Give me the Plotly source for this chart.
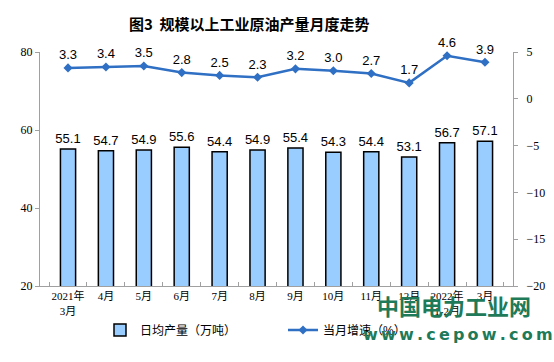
import plotly.graph_objects as go

categories = ["2021年<br>3月", "4月", "5月", "6月", "7月", "8月", "9月", "10月", "11月", "12月", "2022年<br>1-2月", "3月"]
output = [55.1, 54.7, 54.9, 55.6, 54.4, 54.9, 55.4, 54.3, 54.4, 53.1, 56.7, 57.1]
growth = [3.3, 3.4, 3.5, 2.8, 2.5, 2.3, 3.2, 3.0, 2.7, 1.7, 4.6, 3.9]

sans = "Liberation Sans, Noto Sans CJK SC"
serif = "Liberation Serif, Noto Sans CJK SC"

fig = go.Figure()
fig.add_trace(go.Bar(
    x=categories, y=output, name="日均产量（万吨）",
    marker=dict(color="#99CCFF", line=dict(color="#000000", width=1.5)),
    width=0.4,
    text=[f"{v:.1f}" for v in output], textposition="outside",
    constraintext="none",
    textfont=dict(family=sans, size=13, color="#000"),
    cliponaxis=False,
))
fig.add_trace(go.Scatter(
    x=categories, y=growth, name="当月增速（%）", yaxis="y2",
    mode="lines+markers+text",
    line=dict(color="#2F6FC4", width=2.5),
    marker=dict(symbol="diamond", size=7, color="#2F6FC4"),
    text=[f"{v:.1f}" for v in growth], textposition="top center",
    textfont=dict(family=sans, size=13, color="#000"),
    cliponaxis=False,
))

fig.update_layout(
    width=554, height=362,
    margin=dict(l=40, r=41, t=52, b=76, autoexpand=False),
    paper_bgcolor="white", plot_bgcolor="white",
    title=dict(text="<b>图3  规模以上工业原油产量月度走势</b>", x=0.45, xanchor="center",
               y=1 - 25 / 362, yanchor="middle",
               font=dict(family="Noto Sans CJK SC", size=15, color="#000")),
    xaxis=dict(showline=True, linecolor="#A0A0A0", linewidth=1, mirror=False,
               ticks="inside", tickson="boundaries", ticklen=4, tickcolor="#A0A0A0",
               tickfont=dict(family=serif, size=11, color="#000"), tickangle=0,
               showgrid=False),
    yaxis=dict(range=[20, 80], dtick=20, showline=True, linecolor="#A0A0A0",
               ticks="outside", ticklen=4, tickcolor="#A0A0A0", showgrid=False,
               zeroline=False, tickfont=dict(family=serif, size=12, color="#000")),
    yaxis2=dict(range=[-20, 5], dtick=5, overlaying="y", side="right",
                showline=True, linecolor="#A0A0A0", ticks="outside", ticklen=4,
                tickcolor="#A0A0A0", showgrid=False, zeroline=False, ticklabelstandoff=6,
                tickfont=dict(family=serif, size=12, color="#000")),
    bargap=0.6,
    showlegend=True,
    legend=dict(orientation="h", x=(100 - 40) / 473, y=(286 - 330) / 234,
                xanchor="left", yanchor="middle",
                entrywidth=138, font=dict(family=sans, size=12, color="#000"),
                bgcolor="rgba(0,0,0,0)"),
)

fig.add_annotation(text="<b>中国电力工业网</b>", xref="paper", yref="paper",
                   x=(454 - 40) / 473, y=(286 - 305) / 234, showarrow=False,
                   xanchor="center", yanchor="middle",
                   font=dict(family="Noto Sans CJK SC", size=22, color="#1E7A58"))
fig.add_annotation(text="<b>w\u2009w\u2009w\u2009.\u2009c\u2009e\u2009p\u2009o\u2009w\u2009.\u2009c\u2009o\u2009m</b>",
                   xref="paper", yref="paper",
                   x=(458 - 40) / 473, y=(286 - 334) / 234, showarrow=False,
                   xanchor="center", yanchor="middle",
                   font=dict(family="DejaVu Sans", size=16, color="#1E7A58"))

fig.write_html("out.html", config={"displayModeBar": False},
               post_script="document.body.style.margin='0';")
